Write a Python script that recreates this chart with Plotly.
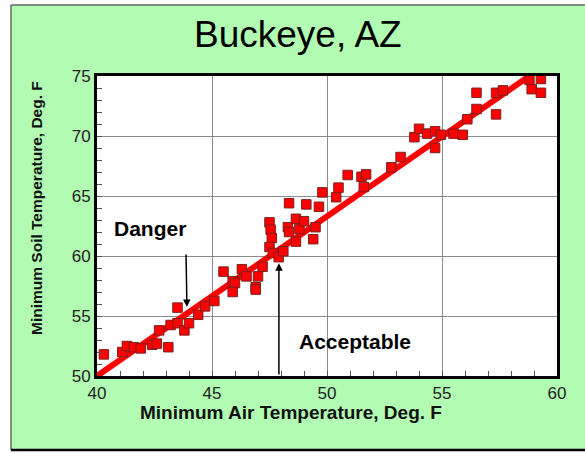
import plotly.graph_objects as go

# Data
air_temp = [40.3, 41.1, 41.3, 41.6, 41.9, 42.4, 42.6, 43.1, 42.7, 43.2, 43.5, 43.5, 43.8, 44.0,
            44.4, 44.7, 45.1, 45.5, 45.9, 46.0, 45.9, 46.3, 46.5, 47.0, 46.9, 46.9, 47.2,
            47.5, 47.55, 47.6, 47.5, 47.65, 47.9, 48.1, 48.3, 48.35, 48.65, 48.65, 48.8,
            49.0, 49.4, 49.5, 48.35, 49.1, 49.65, 49.8, 50.4, 50.5, 50.9, 51.5, 51.7, 51.6,
            52.8, 53.2, 53.8, 54.0, 54.35, 54.7, 54.95, 54.7, 55.5, 55.9, 56.1, 56.5, 56.5,
            57.35, 57.35, 57.65, 58.8, 59.3, 58.9, 59.3]
soil_temp = [51.8, 52.0, 52.5, 52.4, 52.3, 52.6, 52.7, 52.4, 53.8, 54.25, 55.7, 54.4, 53.8, 54.4,
             55.1, 55.8, 56.25, 58.7, 57.9, 57.75, 57.0, 58.9, 58.3, 58.3, 57.4, 57.2, 59.1,
             62.8, 62.2, 61.5, 60.75, 60.25, 59.9, 60.4, 62.4, 62.0, 63.1, 61.2, 62.25,
             62.9, 61.4, 62.4, 64.4, 64.3, 64.1, 65.3, 64.9, 65.7, 66.75, 66.6, 66.8, 65.75,
             67.4, 68.25, 69.9, 70.6, 70.2, 70.4, 70.1, 69.0, 70.2, 70.1, 71.4, 72.25, 73.6,
             73.6, 71.8, 73.8, 74.7, 74.75, 73.9, 73.6]
fit_x = [40, 60]
fit_y = [50, 76.6]

x_ticks = [40, 45, 50, 55, 60]
y_ticks = [50, 55, 60, 65, 70, 75]

GREEN = "#b2fbb2"

fig = go.Figure()
fig.add_trace(go.Scatter(x=fit_x, y=fit_y, mode="lines",
                         line=dict(color="#ff0000", width=6), hoverinfo="skip"))
fig.add_trace(go.Scatter(x=air_temp, y=soil_temp, mode="markers",
                         marker=dict(symbol="square", size=9.5, color="#ff0000",
                                     line=dict(color="#7a2020", width=1))))

L, R, T, B = 97, 557, 76, 376
W, H = 585, 453
def px(x):
    return (x - L) / (R - L)
def py(y):
    return (B - y) / (B - T)

axis_common = dict(showgrid=True, gridcolor="#8c8c8c", gridwidth=1.3,
                   showline=True, linecolor="black", linewidth=3, mirror=True,
                   ticks="inside", ticklen=5, tickcolor="#555",
                   tickfont=dict(family="Liberation Sans, Arial", size=17, color="#222"),
                   zeroline=False,
                   minor=dict(ticks="inside", dtick=1, ticklen=5, tickcolor="#555", showgrid=False))

fig.update_xaxes(range=[40, 60], tickvals=x_ticks, **axis_common)
fig.update_yaxes(range=[50, 75], tickvals=y_ticks, **axis_common)

fig.update_layout(
    width=W, height=H,
    margin=dict(l=L, r=W - R, t=T, b=H - B),
    paper_bgcolor=GREEN, plot_bgcolor="white",
    showlegend=False,
    font=dict(family="Liberation Sans, Arial"),
)

# white edges and borders of the green panel
shapes = [
    dict(type="rect", xref="paper", yref="paper", x0=px(-5), x1=px(11), y0=py(460), y1=py(-5),
         fillcolor="white", line=dict(width=0), layer="below"),
    dict(type="rect", xref="paper", yref="paper", x0=px(-5), x1=px(600), y0=py(5), y1=py(-5),
         fillcolor="white", line=dict(width=0), layer="below"),
    dict(type="rect", xref="paper", yref="paper", x0=px(-5), x1=px(600), y0=py(460), y1=py(450),
         fillcolor="white", line=dict(width=0), layer="below"),
    dict(type="line", xref="paper", yref="paper", x0=px(11), x1=px(600), y0=py(5), y1=py(5),
         line=dict(color="#666", width=1.5)),
    dict(type="line", xref="paper", yref="paper", x0=px(11), x1=px(11), y0=py(5), y1=py(450),
         line=dict(color="#666", width=1.5)),
    dict(type="line", xref="paper", yref="paper", x0=px(11), x1=px(600), y0=py(450), y1=py(450),
         line=dict(color="black", width=2.5)),
]
fig.update_layout(shapes=shapes)

annotations = [
    dict(text="Buckeye, AZ", xref="paper", yref="paper", x=px(298), y=py(35),
         showarrow=False, font=dict(size=37, color="black"), xanchor="center", yanchor="middle"),
    dict(text="<b>Minimum Air Temperature, Deg. F</b>", xref="paper", yref="paper",
         x=px(291), y=py(412), showarrow=False, font=dict(size=19, color="#111"),
         xanchor="center", yanchor="middle"),
    dict(text="<b>Minimum Soil Temperature, Deg. F</b>", xref="paper", yref="paper",
         x=px(37), y=py(208), showarrow=False, textangle=-90, font=dict(size=15.5, color="#111"),
         xanchor="center", yanchor="middle"),
    dict(text="<b>Danger</b>", x=42.3, y=62.3, xref="x", yref="y", showarrow=False,
         font=dict(size=21, color="black")),
    dict(text="<b>Acceptable</b>", x=51.2, y=52.9, xref="x", yref="y", showarrow=False,
         font=dict(size=21, color="black")),
    dict(text="", x=43.91, y=55.75, xref="x", yref="y", ax=43.87, ay=60.25, axref="x", ayref="y",
         showarrow=True, arrowhead=2, arrowsize=1, arrowwidth=1.5, arrowcolor="black"),
    dict(text="", x=47.91, y=59.4, xref="x", yref="y", ax=47.91, ay=50, axref="x", ayref="y",
         showarrow=True, arrowhead=2, arrowsize=1, arrowwidth=1.5, arrowcolor="black"),
]
fig.update_layout(annotations=annotations)

fig.write_html("out.html", config={"displayModeBar": False},
               post_script="document.body.style.margin='0';document.body.style.overflow='hidden';")
